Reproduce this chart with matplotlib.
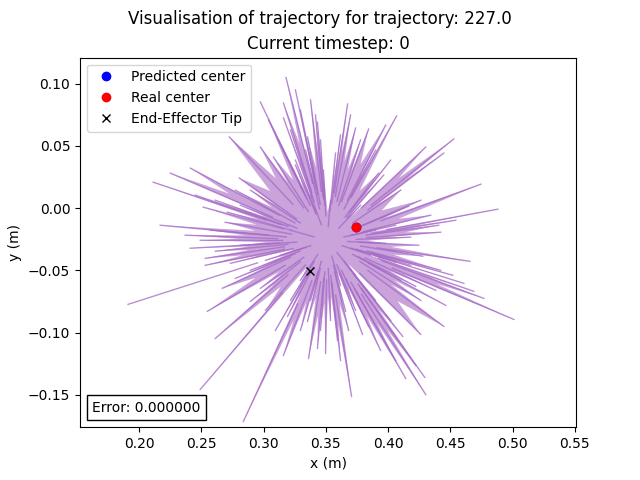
import numpy as np
import matplotlib
matplotlib.use("Agg")
import matplotlib.pyplot as plt
from matplotlib.offsetbox import AnchoredText

# trajectory centre and end points of the spread
centre_x = 0.351
centre_y = -0.026

tip_x = [0.318, 0.2974, 0.316, 0.316, 0.3433, 0.2725, 0.3353, 0.2974, 0.3079, 0.3481,
         0.2411, 0.225, 0.2113, 0.2805, 0.2894, 0.2515, 0.2709, 0.2169, 0.2612, 0.2733,
         0.2668, 0.2974, 0.2894, 0.1911, 0.2548, 0.2612, 0.3192, 0.3353, 0.2491, 0.2837,
         0.3159, 0.3433, 0.3498, 0.3594, 0.3707, 0.3659, 0.3795, 0.3844, 0.4118, 0.4142,
         0.4295, 0.4303, 0.4262, 0.4448, 0.4222, 0.452, 0.4609, 0.4689, 0.477, 0.5011,
         0.4657, 0.4279, 0.4246, 0.398, 0.4182, 0.4407, 0.4882, 0.4746, 0.4166, 0.3965,
         0.3924, 0.4528, 0.4448, 0.4303, 0.4069, 0.3981, 0.3844, 0.3739, 0.3675, 0.3618,
         0.3578, 0.2411, 0.2531, 0.2813, 0.3256, 0.3361, 0.3779, 0.386, 0.3618, 0.3296,
         0.3215, 0.3377, 0.3739, 0.3135, 0.3538, 0.39,
         0.3256, 0.3296, 0.3216, 0.3377, 0.3457, 0.3337, 0.3256, 0.3417, 0.3039, 0.3119,
         0.3699, 0.3779, 0.39, 0.4021, 0.4102, 0.4263, 0.4343, 0.4544, 0.4423, 0.4061,
         0.2491, 0.237, 0.2572, 0.2692, 0.2612, 0.2773, 0.2451, 0.2813, 0.2894, 0.2773,
         0.2531, 0.3015, 0.3296, 0.3377, 0.3457, 0.3538, 0.3618, 0.3683, 0.3739, 0.3216,
         0.3095, 0.3015, 0.394, 0.4021, 0.4061, 0.4222, 0.39, 0.4102, 0.4383, 0.4463,
         0.4263, 0.4182, 0.4423, 0.4061]
tip_y = [0.105, 0.0853, 0.0845, 0.0725, 0.0692, 0.0572, 0.0572, 0.0491, 0.0411, 0.0306,
         0.0322, 0.0282, 0.0209, 0.0242, 0.0145, 0.0008, -0.0032, -0.0137, -0.0346, -0.0443,
         -0.0644, -0.0644, -0.0749, -0.0773, -0.0829, -0.1047, -0.087, -0.091, -0.1457, -0.1715,
         -0.1184, -0.1127, -0.1167, -0.1063, -0.1514, -0.0829, -0.1014, -0.095, -0.1031, -0.1369,
         -0.136, -0.1498, -0.1014, -0.095, -0.0628, -0.0539, -0.0604, -0.0668, -0.0725, -0.0894,
         -0.0427, -0.0386, -0.0298, -0.0282, -0.0233, -0.0137, -0.0008, 0.0193, 0.0016, 0.0266,
         0.0282, 0.0556, 0.0443, 0.0491, 0.0741, 0.0668, 0.0636, 0.0644, 0.0837, 0.0588,
         0.0443, -0.0322, -0.0403, 0.0024, 0.0346, -0.1208, 0.0024, -0.0378, -0.062, -0.058,
         -0.0177, 0.0105, -0.0539, -0.0378, 0.0064, -0.0177,
         0.095, 0.0789, 0.0628, 0.087, 0.0548, 0.0467, 0.0386, 0.0749, 0.0709, 0.0548,
         0.0749, 0.0548, 0.0467, 0.0386, 0.0145, 0.0064, -0.0056, -0.0097, -0.0193, -0.0137,
         -0.0258, -0.0217, -0.0177, -0.0113, 0.0064, 0.0145, 0.0105, -0.0298, -0.0499, -0.0564,
         -0.0459, -0.0419, -0.0982, -0.0741, -0.0982, -0.0902, -0.1224, -0.0982, -0.0821, -0.0741,
         -0.0982, -0.0821, -0.1143, -0.0902, -0.1224, -0.1264, -0.0741, -0.058, -0.066, -0.0781,
         -0.0741, -0.0459, -0.0499, -0.0435]

pred_centre = (0.374, -0.015)
real_centre = (0.374, -0.015)
tip = (0.3371, -0.0507)
traj_id = 227.0
timestep = 0
error = 0.0

tx = np.array(tip_x)
ty = np.array(tip_y)
ang = np.arctan2(ty - centre_y, tx - centre_x)
length = np.hypot(tx - centre_x, ty - centre_y)
order = np.argsort(ang)
ang, length, tx, ty = ang[order], length[order], tx[order], ty[order]

# star shaped fill: spikes out to each tip, valleys in between
px, py = [], []
n = len(ang)
for i in range(n):
    px.append(tx[i])
    py.append(ty[i])
    j = (i + 1) % n
    a2 = ang[j] if j else ang[j] + 2 * np.pi
    mid = (ang[i] + a2) / 2
    r = 0.7 * min(length[i], length[j])
    px.append(centre_x + r * np.cos(mid))
    py.append(centre_y + r * np.sin(mid))

fig, ax = plt.subplots(figsize=(6.4, 4.8))
ax.fill(px, py, color="#c9a3da", lw=0)
for x, y, a, l in zip(tx, ty, ang, length):
    x0 = centre_x + 0.35 * l * np.cos(a)
    y0 = centre_y + 0.35 * l * np.sin(a)
    ax.plot([x0, x], [y0, y], color="#a468c6", alpha=0.75, lw=1.0)

ax.plot(*pred_centre, "o", color="blue", label="Predicted center")
ax.plot(*real_centre, "o", color="red", label="Real center")
ax.plot(*tip, "x", color="black", label="End-Effector Tip")

box = AnchoredText("Error: %f" % error, loc="lower left")
ax.add_artist(box)

ax.set_xlim(0.1525, 0.551)
ax.set_ylim(-0.176, 0.121)
ax.set_xlabel("x (m)")
ax.set_ylabel("y (m)")
ax.set_title("Current timestep: %d" % timestep)
fig.suptitle("Visualisation of trajectory for trajectory: %s" % traj_id)
ax.legend(loc="upper left")

fig.savefig("out.png", dpi=100)
